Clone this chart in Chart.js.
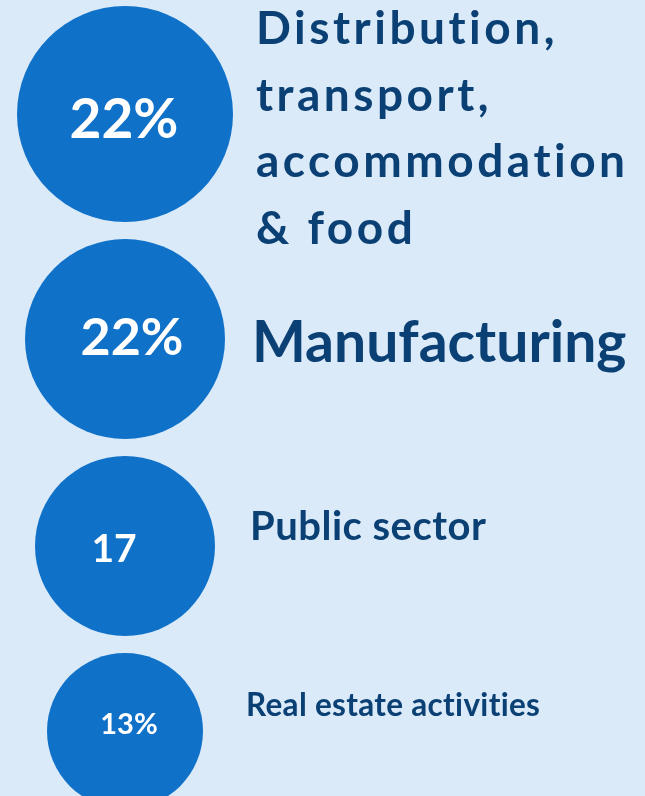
<!DOCTYPE html>
<html lang="en">

<head>
    <meta charset="UTF-8">
    <meta name="viewport" content="width=device-width, initial-scale=1" />
    <title>Share of employment by sector</title>
    <script src="https://cdn.jsdelivr.net/npm/chart.js"></script>
    <style>
        html, body { margin: 0; padding: 0; background: #daeaf9; }
        #wrap { position: relative; width: 645px; height: 796px; }
    </style>
</head>

<body>
    <div id="wrap">
        <canvas id="bubbleChart"></canvas>
    </div>

    <script>
        // data
        const categories = [
            ['Distribution,', 'transport,', 'accommodation', '& food'],
            ['Manufacturing'],
            ['Public sector'],
            ['Real estate activities']
        ];
        const shares = [22, 22, 17, 13];
        const shareLabels = ['22%', '22%', '17', '13%'];

        // look of each row (sizes in px)
        const bubbleRadius = [108, 100, 90, 78];
        const valueFont = [55, 52, 39, 29];
        const valueOffset = [[-1, 24], [7, 16], [-11, 16], [4, 3]];
        const nameFont = [46, 57, 40, 31.5];
        const nameSpacing = [3.5, 0, 0.5, 0.3];
        const nameOffset = [[131, -70], [127, 23], [125, -6], [121, -15]];
        const lineGap = 66.7;

        const W = 645, H = 796, colX = 125, rowGap = 17;

        // stack the bubbles one under the other
        const rowY = [];
        let y = 114;
        shares.forEach((v, i) => {
            if (i > 0) y += bubbleRadius[i - 1] + rowGap + bubbleRadius[i];
            rowY.push(y);
        });

        const labelPlugin = {
            id: 'labels',
            afterDatasetsDraw(chart) {
                const ctx = chart.ctx;
                const meta = chart.getDatasetMeta(0);
                ctx.save();
                meta.data.forEach((pt, i) => {
                    // value inside the bubble
                    ctx.fillStyle = '#ffffff';
                    ctx.textAlign = 'center';
                    ctx.textBaseline = 'alphabetic';
                    ctx.letterSpacing = '0px';
                    ctx.font = 'bold ' + valueFont[i] + 'px Lato';
                    ctx.fillText(shareLabels[i], pt.x + valueOffset[i][0], pt.y + valueOffset[i][1]);

                    // sector name to the right
                    ctx.fillStyle = '#0b4075';
                    ctx.textAlign = 'left';
                    ctx.letterSpacing = nameSpacing[i] + 'px';
                    ctx.font = 'bold ' + nameFont[i] + 'px Lato';
                    categories[i].forEach((line, k) => {
                        ctx.fillText(line, pt.x + nameOffset[i][0], pt.y + nameOffset[i][1] + k * lineGap);
                    });
                });
                ctx.restore();
            }
        };

        function draw() {
            new Chart(document.getElementById('bubbleChart'), {
                type: 'bubble',
                data: {
                    datasets: [{
                        data: shares.map((v, i) => ({ x: colX, y: rowY[i], r: bubbleRadius[i], v: v })),
                        backgroundColor: '#1071c9',
                        borderWidth: 0,
                        hoverRadius: 0,
                        clip: false
                    }]
                },
                options: {
                    responsive: true,
                    maintainAspectRatio: false,
                    animation: false,
                    events: [],
                    layout: { padding: 0, autoPadding: false },
                    scales: {
                        x: { type: 'linear', display: false, min: 0, max: W },
                        y: { type: 'linear', display: false, min: 0, max: H, reverse: true }
                    },
                    plugins: {
                        legend: { display: false },
                        tooltip: { enabled: false }
                    }
                },
                plugins: [labelPlugin]
            });
        }

        document.fonts.load('bold 40px Lato').then(draw, draw);
    </script>
</body>

</html>
